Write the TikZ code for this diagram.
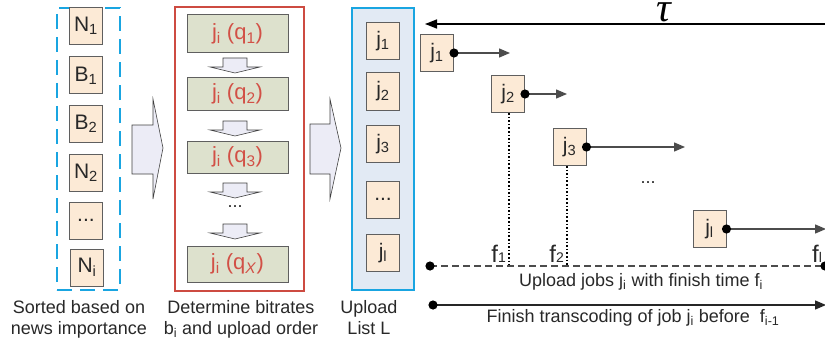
\documentclass[tikz,border=0pt]{standalone}
\usepackage{fontspec}
\setmainfont{Liberation Sans}
\newfontfamily\taufont{Liberation Serif}
\usetikzlibrary{arrows.meta}
\definecolor{peach}{RGB}{252,234,214}
\definecolor{boxgray}{RGB}{95,95,95}
\definecolor{cyanb}{RGB}{25,165,225}
\definecolor{redb}{RGB}{205,75,65}
\definecolor{greenb}{RGB}{221,225,205}
\definecolor{listbg}{RGB}{226,234,244}
\definecolor{arrowbg}{RGB}{236,236,246}
\definecolor{qred}{RGB}{210,80,70}
\definecolor{txt}{RGB}{40,40,40}
\newcommand\sbs[1]{\textsubscript{#1}}
\newcommand\lowsb[1]{{\fontsize{14}{14}\selectfont #1}}
\tikzset{
  jbox/.style={draw=boxgray, fill=peach, line width=1pt, minimum width=33pt, minimum height=37pt, inner sep=0pt, text=txt, font=\fontsize{21}{22}\selectfont},
  qbox/.style={draw=boxgray, fill=greenb, line width=1pt, minimum width=101pt, inner sep=0pt, text=qred, font=\fontsize{22}{22}\selectfont},
  captext/.style={font=\fontsize{18}{21}\selectfont, align=center, inner sep=0pt, text=txt, anchor=north},
  sortbox/.style={draw=cyanb, line width=2.5pt, dash pattern=on 15pt off 8pt},
  redbox/.style={draw=redb, line width=2pt},
  listbox/.style={draw=cyanb, fill=listbg, line width=2.5pt},
  blockarrow/.style={draw=black!75, fill=arrowbg, line width=0.6pt, line join=miter},
  tline/.style={draw=black!70, line width=1.3pt, -{Triangle[length=11pt,width=9pt]}},
  dotline/.style={draw=black, line width=1.3pt, dash pattern=on 1.6pt off 2pt},
  dashline/.style={draw=black!70, line width=1.2pt, dash pattern=on 7pt off 4pt},
  fnum/.style={font=\fontsize{24}{24}\selectfont, inner sep=0pt, text=txt, anchor=base east},
}
\begin{document}
\begin{tikzpicture}[x=1pt,y=-1pt]
\useasboundingbox (0,0) rectangle (825,345);

% --- sorted list
\node[sortbox, minimum width=63pt, minimum height=282pt] (sorted) at (88.5,149) {};
\node[jbox] (n1) at (86,26) {N\sbs{1}};
\node[jbox] (b1) at (86,75.5) {B\sbs{1}};
\node[jbox] (b2) at (86,123.5) {B\sbs{2}};
\node[jbox] (n2) at (86,173) {N\sbs{2}};
\node[jbox] (nd) at (86,220.5) {...};
\node[jbox] (ni) at (87,267.5) {N\sbs{i}};
\node[captext] (c1) at (79,300) {Sorted based on\\news importance};

% --- block arrow 1
\draw[blockarrow] (132,125) -- (153,125) -- (153,99) -- (163,148) -- (153,199) -- (153,174) -- (132,174) -- cycle;

% --- determine bitrates
\node[redbox, minimum width=129pt, minimum height=284pt] (det) at (239.5,149) {};
\node[qbox, minimum height=38pt] (q1) at (237.5,34) {j\sbs{i} (q\sbs{1})};
\node[qbox, minimum height=32pt] (q2) at (237.5,94) {j\sbs{i} (q\sbs{2})};
\node[qbox, minimum height=32pt] (q3) at (237.5,157) {j\sbs{i} (q\sbs{3})};
\node[qbox, minimum height=36pt] (qx) at (237.5,264) {j\sbs{i} (q\sbs{\textit{X}})};
\foreach \t in {58,121,183,224}
  \draw[blockarrow] (223,\t) -- (247,\t) -- (247,\t+9) -- (260,\t+9) -- (235,\t+15) -- (210,\t+9) -- (223,\t+9) -- cycle;
\node[font=\fontsize{18}{20}\selectfont, text=txt] (qd) at (235,207) {...};
\node[captext] (c2) at (241,300) {Determine bitrates\\b\sbs{i} and upload order};

% --- block arrow 2
\draw[blockarrow] (310,124) -- (330,124) -- (330,99) -- (341,148) -- (330,199) -- (330,174) -- (310,174) -- cycle;

% --- upload list
\node[listbox, minimum width=62pt, minimum height=282pt] (ul) at (383,149) {};
\node[jbox] (l1) at (383,41) {j\sbs{1}};
\node[jbox] (l2) at (383,91.5) {j\sbs{2}};
\node[jbox] (l3) at (383,144) {j\sbs{3}};
\node[jbox] (ld) at (383,199.5) {...};
\node[jbox] (ll) at (383,253) {j\sbs{l}};
\node[captext] (c3) at (369,300) {Upload\\List L};

% --- timeline
\coordinate (tauR) at (826,24);
\coordinate (tauL) at (425,24);
\draw[line width=1.5pt, -{Triangle[length=12pt,width=9pt]}] (tauR) -- (tauL);
\node[font=\taufont\itshape\fontsize{41}{41}\selectfont, anchor=base, inner sep=0pt] (tau) at (664,21.5) {τ};

\node[jbox] (t1) at (437,53) {j\sbs{1}};
\node[jbox] (t2) at (508,94) {j\sbs{2}};
\node[jbox] (t3) at (569.5,147) {j\sbs{3}};
\node[jbox] (tl) at (709.5,229) {j\sbs{l}};
\coordinate (e1) at (510,53);
\coordinate (e2) at (567,94);
\coordinate (e3) at (685,147);
\coordinate (el) at (826,229);
\draw[tline] (t1.east) -- (e1);
\draw[tline] (t2.east) -- (e2);
\draw[tline] (t3.east) -- (e3);
\draw[tline] (tl.east) -- (el);
\foreach \n in {t1,t2,t3,tl} \fill (\n.east) circle (4.6pt);
\node[font=\fontsize{18}{20}\selectfont, text=txt] (td) at (648,183) {...};

\coordinate (d2) at (509,266);
\coordinate (d3) at (567,266);
\draw[dotline] (t2.south -| d2) -- (d2);
\draw[dotline] (t3.south -| d3) -- (d3);
\node[fnum] (f1) at (506,262) {f\lowsb{1}};
\node[fnum] (f2) at (564,262) {f\lowsb{2}};
\node[fnum, anchor=base west] (fl) at (812,262) {f\lowsb{l}};

\coordinate (u0) at (430,266);
\coordinate (u1) at (825,266);
\draw[dashline] (u0) -- (u1);
\fill (u0) circle (4.6pt);
\fill (u1) circle (4.6pt);
\node[font=\fontsize{18}{20}\selectfont, text=txt] (ut) at (641,281.5) {Upload jobs j\sbs{i} with finish time f\sbs{i}};

\coordinate (s0) at (433,305);
\coordinate (s1) at (826,305);
\draw[tline, draw=black!85] (s0) -- (s1);
\fill (s0) circle (4.6pt);
\node[font=\fontsize{18}{20}\selectfont, text=txt] (st) at (633,318) {Finish transcoding of job j\sbs{i} before\ \ f\sbs{i-1}};
\end{tikzpicture}
\end{document}
